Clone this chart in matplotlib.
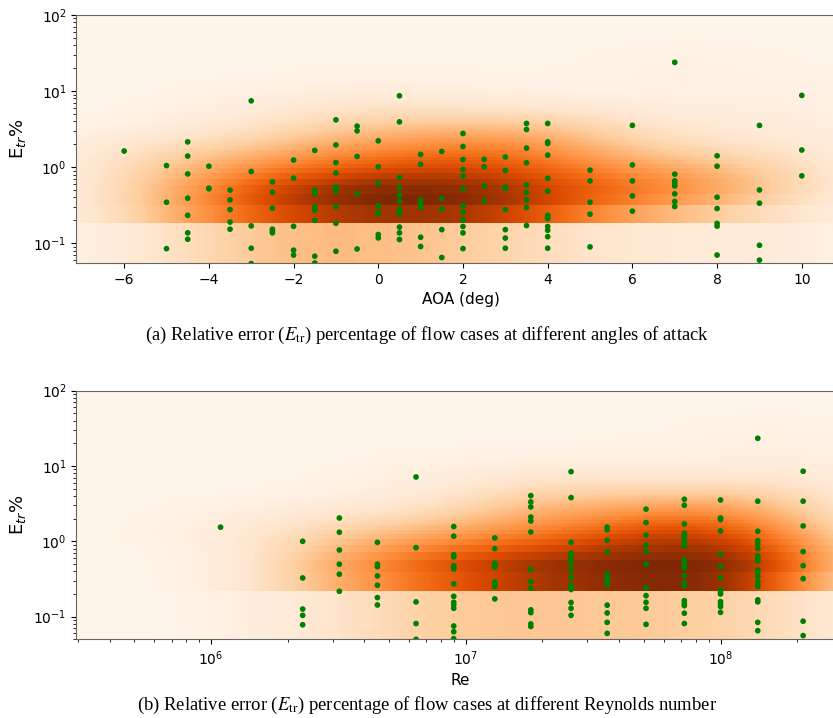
import numpy as np
import matplotlib
matplotlib.use("Agg")
import matplotlib.pyplot as plt

# ---- (a) relative error vs angle of attack ----
aoa_levels = [-6, -5, -4.5, -4, -3.5, -3, -2.5, -2, -1.5, -1, -0.5, 0, 0.5,
              1, 1.5, 2, 2.5, 3, 3.5, 4, 5, 6, 7, 8, 9, 10]
aoa_errors = [
    [1.63],
    [1.05, 0.346, 0.085],
    [2.15, 1.40, 0.816, 0.391, 0.233, 0.137, 0.113],
    [1.03, 0.53, 0.52],
    [0.50, 0.372, 0.277, 0.19, 0.153],
    [7.45, 0.877, 0.169, 0.086, 0.054],
    [0.64, 0.469, 0.289, 0.153, 0.145, 0.137],
    [1.24, 0.716, 0.167, 0.081, 0.070],
    [1.66, 0.50, 0.47, 0.45, 0.30, 0.286, 0.272, 0.20, 0.0675, 0.055],
    [4.19, 1.96, 1.15, 0.84, 0.55, 0.525, 0.483, 0.304, 0.183, 0.0785],
    [3.46, 3.0, 1.38, 0.45, 0.084],
    [2.22, 1.01, 0.615, 0.313, 0.256, 0.246, 0.13, 0.1175],
    [8.67, 3.94, 0.73, 0.535, 0.428, 0.354, 0.277, 0.243, 0.163, 0.137, 0.112],
    [1.47, 1.09, 0.372, 0.349, 0.326, 0.295, 0.12, 0.0906],
    [1.61, 0.387, 0.28, 0.151, 0.065],
    [2.77, 1.87, 1.26, 0.933, 0.762, 0.518, 0.31, 0.256, 0.203, 0.166, 0.137, 0.085],
    [1.27, 1.01, 0.568, 0.36],
    [1.36, 0.905, 0.55, 0.525, 0.277, 0.151, 0.117, 0.086],
    [3.76, 3.13, 1.78, 1.14, 0.585, 0.465, 0.372, 0.295, 0.171],
    [3.76, 2.15, 2.05, 1.44, 0.716, 0.483, 0.233, 0.222, 0.211, 0.166, 0.148, 0.122, 0.086],
    [0.914, 0.66, 0.346, 0.241, 0.0895],
    [3.54, 1.07, 0.66, 0.419, 0.264],
    [23.9, 0.81, 0.66, 0.615, 0.567, 0.446, 0.354, 0.304],
    [1.41, 1.03, 0.403, 0.286, 0.182, 0.168, 0.070],
    [3.54, 0.502, 0.336, 0.094, 0.060],
    [8.77, 1.68, 0.769],
]

# ---- (b) relative error vs Reynolds number ----
re_levels = [1.09e6, 2.29e6, 3.19e6, 4.5e6, 6.38e6, 8.97e6, 1.30e7, 1.80e7,
             2.59e7, 3.59e7, 5.1e7, 7.21e7, 1.0e8, 1.40e8, 2.11e8]
re_errors = [
    [1.54],
    [1.0, 0.326, 0.126, 0.104, 0.078],
    [2.04, 1.32, 0.767, 0.497, 0.366, 0.217],
    [0.97, 0.497, 0.461, 0.347, 0.261, 0.179, 0.143],
    [7.15, 0.824, 0.157, 0.081, 0.05],
    [1.57, 1.17, 0.665, 0.62, 0.475, 0.452, 0.429, 0.272, 0.186, 0.155,
     0.143, 0.129, 0.075, 0.063, 0.051],
    [1.11, 0.8, 0.512, 0.475, 0.452, 0.288, 0.266, 0.25, 0.172],
    [4.04, 3.33, 2.86, 2.1, 1.86, 1.33, 0.421, 0.292, 0.238, 0.123, 0.113, 0.080, 0.074],
    [8.41, 3.8, 0.97, 0.7, 0.64, 0.566, 0.5, 0.408, 0.333, 0.264, 0.248,
     0.229, 0.154, 0.129, 0.104],
    [1.54, 1.42, 1.03, 0.73, 0.369, 0.34, 0.314, 0.286, 0.266, 0.142, 0.112, 0.084, 0.060],
    [2.67, 1.77, 1.21, 0.887, 0.73, 0.497, 0.243, 0.19, 0.155, 0.129, 0.079],
    [3.61, 3.01, 1.7, 1.28, 1.18, 1.07, 0.959, 0.867, 0.565, 0.521, 0.481,
     0.439, 0.35, 0.282, 0.258, 0.163, 0.15, 0.14, 0.111, 0.081],
    [3.54, 2.04, 1.94, 1.37, 0.673, 0.461, 0.327, 0.226, 0.213, 0.2, 0.158,
     0.146, 0.136, 0.114],
    [23.3, 3.41, 1.36, 1.02, 0.923, 0.8, 0.64, 0.596, 0.548, 0.417, 0.384,
     0.34, 0.292, 0.266, 0.25, 0.167, 0.157, 0.084, 0.065],
    [8.51, 3.41, 1.6, 0.73, 0.475, 0.319, 0.087, 0.056],
]

caption_a = r"(a) Relative error ($E_{\rm tr}$) percentage of flow cases at different angles of attack"
caption_b = r"(b) Relative error ($E_{\rm tr}$) percentage of flow cases at different Reynolds number"


def _flatten(levels, groups):
    xs, ys = [], []
    for lv, g in zip(levels, groups):
        xs.extend([lv] * len(g))
        ys.extend(g)
    return np.array(xs, float), np.array(ys, float)


def _kde(px, py, gx, gy, widen=1.0):
    # gaussian kde (scott's rule, slightly widened), evaluated on grid nodes
    data = np.vstack([px, py])
    n = data.shape[1]
    cov = np.cov(data) * n ** (-1.0 / 3.0) * widen ** 2
    inv = np.linalg.inv(cov)
    X, Y = np.meshgrid(gx, gy)
    Z = np.zeros_like(X)
    for x0, y0 in zip(px, py):
        dx, dy = X - x0, Y - y0
        q = inv[0, 0] * dx * dx + 2 * inv[0, 1] * dx * dy + inv[1, 1] * dy * dy
        Z += np.exp(-0.5 * q)
    return Z


def _panel(ax, xs, ys, xgrid, ygrid, xkde, logx):
    gx = np.log10(xgrid) if logx else xgrid
    Z = _kde(xkde, np.log10(ys), gx, np.log10(ygrid), widen=1.25)
    # flat shading: each cell takes the value of its lower-left node
    ax.pcolormesh(xgrid, ygrid, Z[:-1, :-1], cmap="Oranges", shading="flat",
                  vmin=0, vmax=Z.max())
    ax.scatter(xs, ys, s=17, c="green", edgecolors="none", zorder=3)
    ax.set_yscale("log")
    for side in ("top", "left", "bottom"):
        ax.spines[side].set_color("#666666")
    ax.spines["right"].set_visible(False)
    ax.tick_params(labelsize=10)
    ax.set_ylabel("E$_{tr}$%", fontsize=13)


fig = plt.figure(figsize=(8.33, 7.18), dpi=100)

ax1 = fig.add_axes([0.0916, 0.6337, 0.9228, 0.3454])
ax2 = fig.add_axes([0.0916, 0.1096, 0.9228, 0.3463])

xa, ya = _flatten(aoa_levels, aoa_errors)
xlim_a = (-7.13, 11.02)
ylim_a = (0.055, 100)
_panel(ax1, xa, ya,
       np.linspace(xlim_a[0], xlim_a[1], 300),
       np.arange(ylim_a[0], ylim_a[1] + 0.13, 0.13),
       xa, logx=False)
ax1.set_xlim(*xlim_a)
ax1.set_ylim(*ylim_a)
ax1.set_xticks([-6, -4, -2, 0, 2, 4, 6, 8, 10])
ax1.set_xlabel("AOA (deg)", fontsize=11)

xb, yb = _flatten(re_levels, re_errors)
xlim_b = (2.96e5, 3.08e8)
ylim_b = (0.05, 100)
_panel(ax2, xb, yb,
       np.geomspace(xlim_b[0], xlim_b[1], 400),
       np.arange(ylim_b[0], ylim_b[1] + 0.17, 0.17),
       np.log10(xb), logx=True)
ax2.set_xscale("log")
ax2.set_xlim(*xlim_b)
ax2.set_ylim(*ylim_b)
ax2.set_xlabel("Re", fontsize=11)

fig.text(0.513, 0.533, caption_a, ha="center", va="center", fontsize=13.4,
         family="Liberation Serif", math_fontfamily="stix")
fig.text(0.513, 0.017, caption_b, ha="center", va="center", fontsize=13.4,
         family="Liberation Serif", math_fontfamily="stix")

fig.savefig("out.png", dpi=100)
